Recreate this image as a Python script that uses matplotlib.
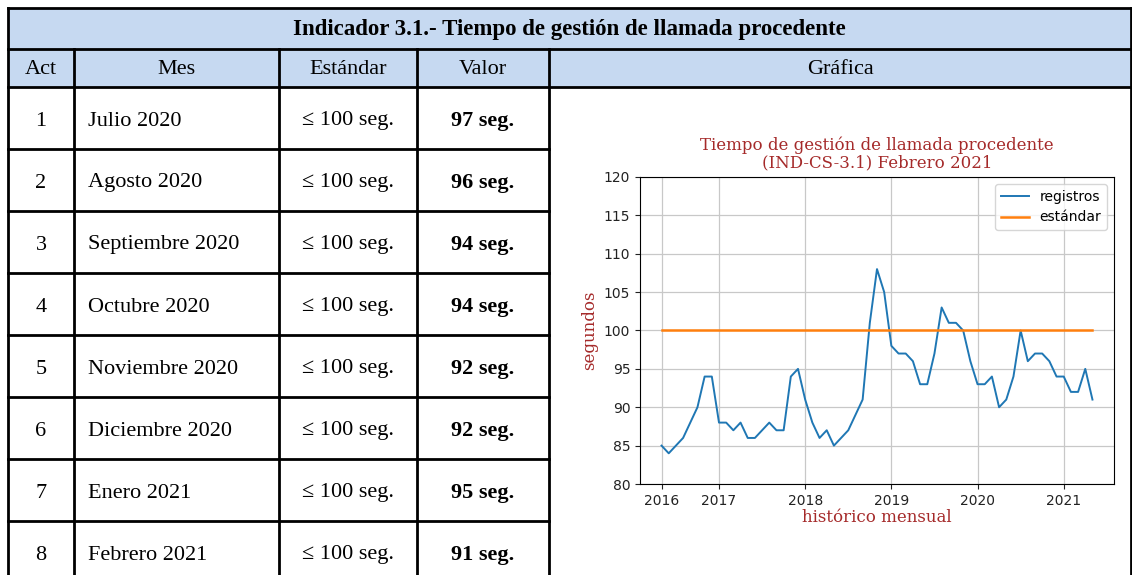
import numpy as np
import pandas as pd
import matplotlib
matplotlib.use("Agg")
import matplotlib.pyplot as plt
from matplotlib.patches import Rectangle

# --- table data ---
acts = [1, 2, 3, 4, 5, 6, 7, 8]
meses = ["Julio 2020", "Agosto 2020", "Septiembre 2020", "Octubre 2020",
         "Noviembre 2020", "Diciembre 2020", "Enero 2021", "Febrero 2021"]
estandar_txt = ["≤ 100 seg."] * 8
valores = [97, 96, 94, 94, 92, 92, 95, 91]
encabezados = ["Act", "Mes", "Estándar", "Valor", "Gráfica"]
titulo_tabla = "Indicador 3.1.- Tiempo de gestión de llamada procedente"

# --- chart data (monthly history) ---
registros = [85, 84, 85, 86, 88, 90, 94, 94, 88, 88, 87, 88, 86, 86, 87, 88,
             87, 87, 94, 95, 91, 88, 86, 87, 85, 86, 87, 89, 91, 101, 108, 105,
             98, 97, 97, 96, 93, 93, 97, 103, 101, 101, 100, 96, 93, 93, 94, 90,
             91, 94, 100, 96, 97, 97, 96, 94, 94, 92, 92, 95, 91]
estandar = [100] * len(registros)
fechas = pd.date_range("2016-05-01", periods=len(registros), freq="MS")
anios = [2016, 2017, 2018, 2019, 2020, 2021]

W, H = 1132, 575
fig = plt.figure(figsize=(W / 100, H / 100), dpi=100)

# overlay in pixel coordinates for the table
tab = fig.add_axes([0, 0, 1, 1])
tab.set_xlim(0, W)
tab.set_ylim(H, 0)
tab.axis("off")

serif = ["Liberation Serif", "DejaVu Serif"]
left, right = 8, 1131
top, mid, hbot = 8, 49, 87
row_h = 62
cols = [left, 74, 279, 417, 549, right]
hdr_color = "#c6d9f1"

tab.add_patch(Rectangle((left, top), right - left, hbot - top, facecolor=hdr_color, edgecolor="none"))
lw = 2
# horizontal lines
for y in (top, mid, hbot):
    tab.plot([left, right], [y, y], color="black", lw=lw)
for i in range(1, len(acts)):
    y = hbot + i * row_h
    tab.plot([left, cols[4]], [y, y], color="black", lw=lw)
# vertical lines
tab.plot([left, left], [top, H], color="black", lw=lw)
tab.plot([right, right], [top, H], color="black", lw=lw)
for x in cols[1:5]:
    tab.plot([x, x], [mid, H], color="black", lw=lw)

tab.text((left + right) / 2, (top + mid) / 2 + 1, titulo_tabla, ha="center", va="center",
         fontsize=16.5, fontweight="bold", family=serif)
for j, h in enumerate(encabezados):
    tab.text((cols[j] + cols[j + 1]) / 2, (mid + hbot) / 2 + 2, h, ha="center", va="center",
             fontsize=16, family=serif)

for i in range(len(acts)):
    yc = hbot + (i + 0.5) * row_h + 3
    tab.text((cols[0] + cols[1]) / 2, yc, str(acts[i]), ha="center", va="center", fontsize=16, family=serif)
    tab.text(cols[1] + 14, yc, meses[i], ha="left", va="center", fontsize=16, family=serif)
    tab.text((cols[2] + cols[3]) / 2, yc, estandar_txt[i], ha="center", va="center", fontsize=16, family=serif)
    tab.text((cols[3] + cols[4]) / 2, yc, f"{valores[i]} seg.", ha="center", va="center",
             fontsize=16, fontweight="bold", family=serif)

# --- chart ---
ax_l, ax_r, ax_t, ax_b = 640, 1114, 177, 484
ax = fig.add_axes([ax_l / W, 1 - ax_b / H, (ax_r - ax_l) / W, (ax_b - ax_t) / H])
x = fechas.year + (fechas.month - 1) / 12
ax.plot(x, registros, color="#1f77b4", lw=1.4, label="registros")
ax.plot(x, estandar, color="#ff7f0e", lw=1.8, label="estándar")
ax.set_ylim(80, 120)
ax.set_yticks(range(80, 121, 5))
ax.set_xticks([x[0]] + anios[1:])
ax.set_xticklabels([str(a) for a in anios])
ax.tick_params(labelsize=10, colors="#222222")
ax.grid(True, color="#c8c8c8", lw=0.9)
brown = "#a52a2a"
ax.set_title("Tiempo de gestión de llamada procedente\n(IND-CS-3.1) Febrero 2021",
             family="DejaVu Serif", color=brown, fontsize=12, linespacing=1.0, pad=7)
ax.set_ylabel("segundos", family="DejaVu Serif", color=brown, fontsize=12)
ax.set_xlabel("histórico mensual", family="DejaVu Serif", color=brown, fontsize=12, labelpad=1)
ax.legend(loc="upper right", fontsize=10)

fig.savefig("out.png", dpi=100)
